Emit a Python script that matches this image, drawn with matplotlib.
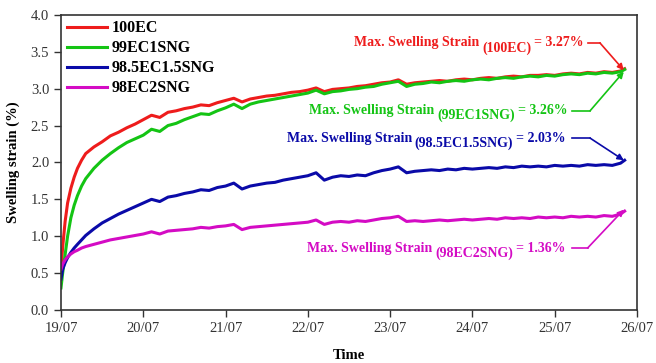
import matplotlib
matplotlib.use("Agg")
import matplotlib.pyplot as plt
import numpy as np

plt.rcParams['font.family'] = ['Liberation Serif', 'DejaVu Serif']

# time in days after 19/07
t_early = [0.0, 0.02, 0.05, 0.08, 0.12, 0.16, 0.2, 0.25]
t_main = list(np.round(np.arange(0.3, 6.81, 0.1), 2))
time = t_early + t_main + [6.85]

ec100 = [0.55, 0.85, 1.2, 1.45, 1.65, 1.8, 1.92, 2.03,
         2.12, 2.21, 2.28, 2.36, 2.41, 2.47, 2.52, 2.58, 2.64, 2.61,
         2.68, 2.70, 2.73, 2.75, 2.78, 2.77, 2.81, 2.84, 2.87, 2.82,
         2.86, 2.88, 2.90, 2.91, 2.93, 2.95, 2.96, 2.98, 3.01, 2.96,
         2.99, 3.00, 3.01, 3.03, 3.04, 3.06, 3.08, 3.09, 3.12, 3.06,
         3.08, 3.09, 3.10, 3.11, 3.10, 3.12, 3.13, 3.12, 3.14, 3.15,
         3.14, 3.16, 3.17, 3.16, 3.18, 3.18, 3.19, 3.18, 3.20, 3.21,
         3.20, 3.22, 3.21, 3.23, 3.22, 3.24,
         3.27]
ec99 = [0.3, 0.5, 0.75, 1.0, 1.25, 1.42, 1.55, 1.68,
        1.78, 1.92, 2.03, 2.12, 2.20, 2.27, 2.32, 2.37, 2.45, 2.42,
        2.50, 2.53, 2.58, 2.62, 2.66, 2.65, 2.70, 2.74, 2.79, 2.73,
        2.79, 2.82, 2.84, 2.86, 2.88, 2.90, 2.92, 2.94, 2.98, 2.93,
        2.96, 2.97, 2.99, 3.00, 3.02, 3.03, 3.06, 3.08, 3.10, 3.03,
        3.06, 3.07, 3.09, 3.08, 3.10, 3.11, 3.10, 3.12, 3.13, 3.12,
        3.14, 3.15, 3.14, 3.16, 3.17, 3.16, 3.18, 3.17, 3.19, 3.20,
        3.19, 3.21, 3.20, 3.22, 3.21, 3.23,
        3.26]
ec985 = [0.42, 0.55, 0.64, 0.71, 0.78, 0.84, 0.89, 0.95,
         1.01, 1.10, 1.18, 1.24, 1.30, 1.35, 1.40, 1.45, 1.50, 1.47,
         1.53, 1.55, 1.58, 1.60, 1.63, 1.62, 1.66, 1.68, 1.72, 1.64,
         1.68, 1.70, 1.72, 1.73, 1.76, 1.78, 1.80, 1.82, 1.86, 1.76,
         1.80, 1.82, 1.81, 1.83, 1.82, 1.86, 1.89, 1.91, 1.94, 1.86,
         1.88, 1.89, 1.90, 1.89, 1.91, 1.90, 1.92, 1.91, 1.92, 1.93,
         1.92, 1.94, 1.93, 1.95, 1.94, 1.95, 1.94, 1.96, 1.95, 1.96,
         1.95, 1.97, 1.96, 1.97, 1.96, 1.99,
         2.03]
ec98 = [0.55, 0.62, 0.68, 0.72, 0.76, 0.79, 0.81, 0.84,
        0.86, 0.89, 0.92, 0.95, 0.97, 0.99, 1.01, 1.03, 1.06, 1.03,
        1.07, 1.08, 1.09, 1.10, 1.12, 1.11, 1.13, 1.14, 1.16, 1.09,
        1.12, 1.13, 1.14, 1.15, 1.16, 1.17, 1.18, 1.19, 1.22, 1.16,
        1.19, 1.20, 1.19, 1.21, 1.20, 1.22, 1.24, 1.25, 1.27, 1.20,
        1.21, 1.20, 1.21, 1.22, 1.21, 1.22, 1.23, 1.22, 1.23, 1.24,
        1.23, 1.25, 1.24, 1.25, 1.24, 1.26, 1.25, 1.26, 1.25, 1.27,
        1.26, 1.27, 1.26, 1.28, 1.27, 1.30,
        1.34]

names = ["100EC", "99EC1SNG", "98.5EC1.5SNG", "98EC2SNG"]
colors = ['#ee1c1c', '#14c414', '#0a0aa8', '#d40bc4']
max_vals = ["3.27%", "3.26%", "2.03%", "1.36%"]
x_labels = ["19/07", "20/07", "21/07", "22/07", "23/07", "24/07", "25/07", "26/07"]

fig = plt.figure(figsize=(6.56, 3.63), dpi=100)
ax = fig.add_axes([0.093, 0.146, 0.878, 0.813])

for ys, name, c in zip([ec100, ec99, ec985, ec98], names, colors):
    ax.plot(time, ys, color=c, lw=2.2, label=name)

ax.set_xlim(0, 7)
ax.set_ylim(0, 4)
ax.set_xticks(range(8))
ax.set_xticklabels(x_labels)
ax.set_yticks(np.arange(0, 4.01, 0.5))
ax.set_yticklabels(["%.1f" % v for v in np.arange(0, 4.01, 0.5)])
ax.tick_params(direction='out', length=5, width=1, labelsize=10.5, colors='#333333')
for s in ax.spines.values():
    s.set_linewidth(1.2)
    s.set_color('#333333')
ax.set_xlabel("Time", fontsize=10.5, fontweight='bold', labelpad=10)
ax.set_ylabel("Swelling strain (%)", fontsize=10.5, fontweight='bold', labelpad=8)

leg = ax.legend(loc='upper left', frameon=False, prop={'weight': 'bold', 'size': 11.5},
                handlelength=2.5, handletextpad=0.35, labelspacing=0.25,
                borderaxespad=0.15, borderpad=0.2)

# annotations: text end (day), text centre (value), corner, arrow tip
ann_pos = [(6.35, 3.62, (6.40, 3.62), (6.55, 3.62), (6.84, 3.25)),
           (6.15, 2.70, (6.21, 2.70), (6.43, 2.70), (6.84, 3.23)),
           (6.13, 2.33, (6.21, 2.33), (6.43, 2.33), (6.84, 2.03)),
           (6.13, 0.84, (6.21, 0.84), (6.40, 0.84), (6.84, 1.36))]
for (xe, yc, p0, p1, tip), name, c, mv in zip(ann_pos, names, colors, max_vals):
    kw = dict(color=c, fontweight='bold', fontsize=10)
    t3 = ax.text(xe, yc, "= " + mv, ha='right', va='center', **kw)
    t2 = ax.annotate("(" + name + ")", xy=(0, 0.5), xycoords=t3, xytext=(-2, -3.5),
                     textcoords='offset points', ha='right', va='center', **kw)
    ax.annotate("Max. Swelling Strain", xy=(0, 0.5), xycoords=t2, xytext=(-2, 3.5),
                textcoords='offset points', ha='right', va='center', **kw)
    ax.plot([p0[0], p1[0]], [p0[1], p1[1]], color=c, lw=1.2)
    ax.annotate("", xy=tip, xytext=p1,
                arrowprops=dict(arrowstyle='-|>', color=c, lw=1.2,
                                mutation_scale=9, shrinkA=0, shrinkB=0))

fig.savefig("out.png", dpi=100)
